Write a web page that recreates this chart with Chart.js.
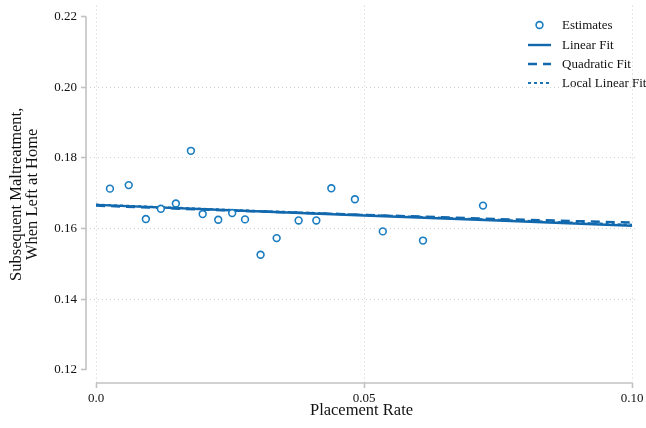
<!DOCTYPE html>
<html>
<head>
<meta charset="utf-8">
<script src="https://cdn.jsdelivr.net/npm/chart.js@4/dist/chart.umd.min.js"></script>
<style>
  html, body { margin: 0; padding: 0; background: #fff; }
  canvas { display: block; }
</style>
</head>
<body>
<canvas id="chart" width="646" height="428"></canvas>
<script>
// binned estimates
const estX = [0.0026, 0.0061, 0.0093, 0.0121, 0.0149, 0.0177, 0.0199, 0.0228, 0.0254, 0.0278,
              0.0307, 0.0337, 0.0378, 0.0411, 0.0439, 0.0483, 0.0535, 0.0610, 0.0722]
const estY = [0.1713, 0.1723, 0.1627, 0.1656, 0.1671, 0.1820, 0.1641, 0.1625, 0.1644, 0.1626,
              0.1526, 0.1573, 0.1623, 0.1623, 0.1714, 0.1683, 0.1592, 0.1566, 0.1665]

// fitted lines
const fitX = [0, 0.025, 0.05, 0.075, 0.10]
const linearY = [0.1667, 0.1652, 0.1637, 0.1623, 0.1608]
const quadY = [0.1665, 0.1651, 0.1639, 0.1627, 0.1617]
const localY = [0.1668, 0.1653, 0.1639, 0.1625, 0.1611]

const xTicks = [0, 0.05, 0.10]
const xTickLabels = ['0.0', '0.05', '0.10']
const yTicks = [0.12, 0.14, 0.16, 0.18, 0.20, 0.22]
const yTickLabels = ['0.12', '0.14', '0.16', '0.18', '0.20', '0.22']

const pointBlue = '#1a7cc1'
const lineBlue = '#1268ad'
const axisGray = '#c2c2c2'
const gridGray = '#cfcfcf'
const serif = "'Liberation Serif', 'Times New Roman', serif"

const toPoints = (xs, ys) => xs.map((x, i) => ({ x: x, y: ys[i] }))

// draws the detached axis lines (Stata style) over the tick range only
const axisLines = {
    id: 'axisLines',
    beforeDatasetsDraw (chart) {
        const { ctx, scales: { x, y } } = chart
        ctx.save()
        ctx.strokeStyle = axisGray
        ctx.lineWidth = 1.6
        ctx.beginPath()
        ctx.moveTo(y.left + y.width, y.getPixelForValue(yTicks[0]))
        ctx.lineTo(y.left + y.width, y.getPixelForValue(yTicks[yTicks.length - 1]))
        ctx.moveTo(x.getPixelForValue(xTicks[0]), x.top)
        ctx.lineTo(x.getPixelForValue(xTicks[xTicks.length - 1]), x.top)
        ctx.stroke()
        ctx.restore()
    }
}

// legend sits inside the plot, top right
const insideLegend = {
    id: 'insideLegend',
    afterDraw (chart) {
        const ctx = chart.ctx
        const left = 528, lineW = 23, textX = 562
        const rows = [25, 45, 64, 83]
        ctx.save()
        ctx.font = '13px ' + serif
        ctx.textBaseline = 'middle'
        ctx.fillStyle = '#111'
        chart.data.datasets.forEach((ds, i) => {
            const yy = rows[i]
            if (ds.showLine) {
                ctx.strokeStyle = ds.borderColor
                ctx.lineWidth = ds.borderWidth
                ctx.setLineDash(ds.borderDash || [])
                ctx.beginPath()
                ctx.moveTo(left, yy)
                ctx.lineTo(left + lineW, yy)
                ctx.stroke()
            } else {
                ctx.setLineDash([])
                ctx.strokeStyle = ds.borderColor
                ctx.fillStyle = '#fff'
                ctx.lineWidth = ds.borderWidth
                ctx.beginPath()
                ctx.arc(left + lineW / 2, yy, ds.pointRadius, 0, Math.PI * 2)
                ctx.fill()
                ctx.stroke()
                ctx.fillStyle = '#111'
            }
            ctx.fillText(ds.label, textX, yy + 1)
        })
        ctx.restore()
    }
}

// no dotted grid line on the outermost y ticks
const gridColor = (ends) => (c) => {
    if (c.tick && ends.includes(c.tick.value)) return 'rgba(0,0,0,0)'
    return gridGray
}

new Chart(document.getElementById('chart'), {
    type: 'scatter',
    data: {
        datasets: [
            {
                label: 'Estimates',
                data: toPoints(estX, estY),
                pointRadius: 3.4,
                pointBorderWidth: 1.6,
                borderWidth: 1.6,
                borderColor: pointBlue,
                backgroundColor: '#fff',
                pointBackgroundColor: '#fff'
            },
            {
                label: 'Linear Fit',
                data: toPoints(fitX, linearY),
                showLine: true,
                pointRadius: 0,
                borderColor: lineBlue,
                borderWidth: 2.4
            },
            {
                label: 'Quadratic Fit',
                data: toPoints(fitX, quadY),
                showLine: true,
                pointRadius: 0,
                borderColor: lineBlue,
                borderWidth: 2.4,
                borderDash: [9, 6]
            },
            {
                label: 'Local Linear Fit',
                data: toPoints(fitX, localY),
                showLine: true,
                pointRadius: 0,
                borderColor: '#1a74b8',
                borderWidth: 2,
                borderDash: [3, 3]
            }
        ]
    },
    options: {
        responsive: false,
        animation: false,
        layout: { padding: { top: 5, right: 9, left: 0, bottom: 0 } },
        plugins: {
            legend: { display: false },
            tooltip: { enabled: false }
        },
        scales: {
            x: {
                type: 'linear',
                min: -0.00187,
                max: 0.10093,
                afterBuildTicks: (s) => { s.ticks = xTicks.map(v => ({ value: v })) },
                afterFit: (s) => {
                    s.height = 45
                    s.paddingLeft = 0
                    s.paddingRight = 0
                },
                border: { display: false, dash: [1, 3] },
                grid: {
                    color: gridGray,
                    lineWidth: 1,
                    tickColor: axisGray,
                    tickWidth: 1.6,
                    tickLength: 5,
                    tickBorderDash: []
                },
                ticks: {
                    color: '#111',
                    padding: 3,
                    maxRotation: 0,
                    font: { family: serif, size: 13 },
                    callback: (v, i) => xTickLabels[i]
                },
                title: {
                    display: true,
                    text: 'Placement Rate',
                    color: '#111',
                    font: { family: serif, size: 16.5, lineHeight: 0.97 },
                    padding: { top: 0, bottom: 9 }
                }
            },
            y: {
                type: 'linear',
                min: 0.1163,
                max: 0.2231,
                afterBuildTicks: (s) => { s.ticks = yTicks.map(v => ({ value: v })) },
                afterFit: (s) => {
                    s.width = 86
                    s.paddingTop = 0
                    s.paddingBottom = 0
                },
                border: { display: false, dash: [1, 3] },
                grid: {
                    color: gridColor([0.12, 0.22]),
                    lineWidth: 1,
                    tickColor: axisGray,
                    tickWidth: 1.6,
                    tickLength: 5,
                    tickBorderDash: []
                },
                ticks: {
                    color: '#111',
                    padding: 4,
                    font: { family: serif, size: 13 },
                    callback: (v, i) => yTickLabels[i]
                },
                title: {
                    display: true,
                    text: ['Subsequent Maltreatment,', 'When Left at Home'],
                    color: '#111',
                    font: { family: serif, size: 16.5, lineHeight: 0.97 },
                    padding: { top: 9, bottom: 0 }
                }
            }
        }
    },
    plugins: [axisLines, insideLegend]
})
</script>
</body>
</html>
